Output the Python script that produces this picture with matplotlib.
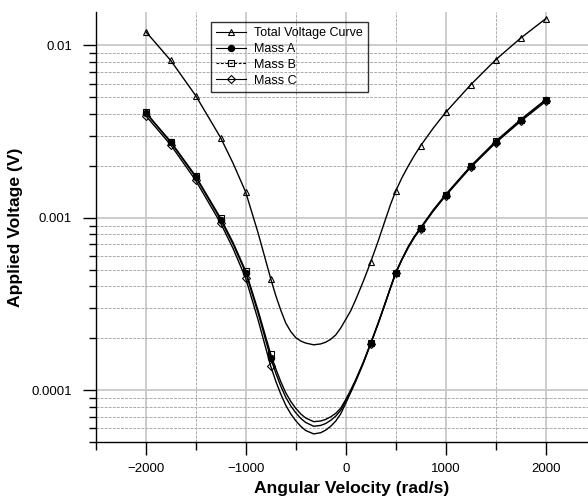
import numpy as np
import matplotlib
matplotlib.use("Agg")
import matplotlib.pyplot as plt
from matplotlib.ticker import MultipleLocator, LogLocator, FuncFormatter, NullFormatter
from matplotlib.lines import Line2D

plt.rcParams["font.family"] = ["Liberation Sans", "DejaVu Sans"]
plt.rcParams["axes.unicode_minus"] = True

# Angular velocity sample points (rad/s)
omega = [-2000, -1750, -1500, -1250, -1125, -1000, -875, -750, -700, -650,
         -600, -550, -500, -450, -400, -320, -250, -200, -150, -100,
         -50, 0, 50, 100, 175, 250, 325, 400, 450, 500,
         562, 625, 687, 750, 875, 1000, 1250, 1500, 1750, 2000]

# Applied voltage (V)
total_voltage = [1.205e-2, 8.185e-3, 5.117e-3, 2.911e-3, 2.065e-3, 1.409e-3, 8.13e-4, 4.436e-4, 3.548e-4, 2.917e-4,
                 2.455e-4, 2.188e-4, 2.018e-4, 1.928e-4, 1.875e-4, 1.832e-4, 1.854e-4, 1.897e-4, 1.972e-4, 2.089e-4,
                 2.291e-4, 2.57e-4, 2.884e-4, 3.35e-4, 4.266e-4, 5.534e-4, 7.33e-4, 9.886e-4, 1.202e-3, 1.429e-3,
                 1.706e-3, 1.995e-3, 2.301e-3, 2.624e-3, 3.311e-3, 4.093e-3, 5.916e-3, 8.26e-3, 1.104e-2, 1.429e-2]

mass_a = [4.064e-3, 2.742e-3, 1.722e-3, 9.73e-4, 7.0e-4, 4.81e-4, 2.786e-4, 1.535e-4, 1.259e-4, 1.057e-4,
          9.1e-5, 8.11e-5, 7.4e-5, 6.86e-5, 6.49e-5, 6.17e-5, 6.24e-5, 6.4e-5, 6.68e-5, 7.06e-5,
          7.64e-5, 8.65e-5, 9.89e-5, 1.14e-4, 1.442e-4, 1.866e-4, 2.45e-4, 3.258e-4, 3.963e-4, 4.80e-4,
          5.74e-4, 6.78e-4, 7.78e-4, 8.75e-4, 1.105e-3, 1.36e-3, 1.985e-3, 2.765e-3, 3.695e-3, 4.83e-3]

mass_b = [4.093e-3, 2.767e-3, 1.746e-3, 9.93e-4, 7.16e-4, 4.91e-4, 2.884e-4, 1.618e-4, 1.334e-4, 1.122e-4,
          9.66e-5, 8.61e-5, 7.85e-5, 7.28e-5, 6.89e-5, 6.56e-5, 6.62e-5, 6.76e-5, 7.0e-5, 7.33e-5,
          7.85e-5, 8.81e-5, 1.0e-4, 1.148e-4, 1.445e-4, 1.875e-4, 2.455e-4, 3.273e-4, 3.981e-4, 4.81e-4,
          5.754e-4, 6.79e-4, 7.80e-4, 8.77e-4, 1.109e-3, 1.365e-3, 1.995e-3, 2.78e-3, 3.715e-3, 4.853e-3]

mass_c = [3.917e-3, 2.649e-3, 1.648e-3, 9.29e-4, 6.61e-4, 4.46e-4, 2.541e-4, 1.377e-4, 1.13e-4, 9.51e-5,
          8.18e-5, 7.29e-5, 6.65e-5, 6.17e-5, 5.83e-5, 5.57e-5, 5.66e-5, 5.86e-5, 6.17e-5, 6.61e-5,
          7.28e-5, 8.38e-5, 9.68e-5, 1.122e-4, 1.422e-4, 1.854e-4, 2.427e-4, 3.236e-4, 3.936e-4, 4.753e-4,
          5.689e-4, 6.70e-4, 7.69e-4, 8.65e-4, 1.091e-3, 1.343e-3, 1.959e-3, 2.723e-3, 3.631e-3, 4.732e-3]

# Velocities at which the measurement symbols are shown
marker_omega = [-2000, -1750, -1500, -1250, -1000, -750,
                250, 500, 750, 1000, 1250, 1500, 1750, 2000]

series_labels = ["Total Voltage Curve", "Mass A", "Mass B", "Mass C"]

W, H = 588, 498
fig = plt.figure(figsize=(W / 100, H / 100), dpi=100)
ax = fig.add_axes([95.7 / W, 56 / H, 500 / W, 430.3 / H])

mark_idx = [i for i, w in enumerate(omega) if w in marker_omega]

styles = [
    dict(marker="^", ms=4.0, mfc="none", mew=0.8),
    dict(marker="o", ms=4.5, mfc="black", mew=0.8),
    dict(marker="s", ms=5.0, mfc="none", mew=0.8),
    dict(marker="D", ms=4.5, mfc="none", mew=0.8),
]
data = [total_voltage, mass_a, mass_b, mass_c]
for vals, st in zip(data, styles):
    ax.plot(omega, vals, color="black", lw=1.0, markevery=mark_idx,
            mec="black", zorder=3, **st)

ax.set_yscale("log")
ax.set_xlim(-2500, 2500)
ax.set_ylim(5e-5, 0.0157)

ax.xaxis.set_major_locator(MultipleLocator(1000))
ax.xaxis.set_minor_locator(MultipleLocator(500))
ax.yaxis.set_major_locator(LogLocator(base=10, numticks=10))
ax.yaxis.set_minor_locator(LogLocator(base=10, subs=np.arange(2, 10), numticks=20))
ax.yaxis.set_major_formatter(FuncFormatter(lambda v, p: f"{v:g}"))
ax.yaxis.set_minor_formatter(NullFormatter())

ax.set_axisbelow(True)
ax.grid(which="major", color="#c8c8c8", lw=1.3, ls="-")
ax.grid(which="minor", color="#acacac", lw=0.7, ls=(0, (3, 1.2)))

for s in ("top", "right"):
    ax.spines[s].set_visible(False)
for s in ("left", "bottom"):
    ax.spines[s].set_linewidth(1.0)

ax.tick_params(which="major", length=9.4, width=1.0, labelsize=9.5, color="black")
ax.tick_params(which="minor", length=5.4, width=1.0, color="black")
ax.tick_params(axis="x", which="major", pad=5.5)
ax.tick_params(axis="y", which="major", pad=7.5)

ax.set_xlabel("Angular Velocity (rad/s)", fontsize=12.6, fontweight="bold", labelpad=4)
ax.xaxis.set_label_coords(0.512, -0.09)
ax.set_ylabel("Applied Voltage (V)", fontsize=12.6, fontweight="bold", labelpad=6)

# Legend handles (the Mass B entry uses a dashed key line)
handles = []
for st, lab, ls in zip(styles, series_labels, ["-", "-", (0, (2.5, 1.5)), "-"]):
    handles.append(Line2D([], [], color="black", lw=0.8, ls=ls, mec="black", label=lab, **st))
leg = fig.legend(handles=handles, loc="upper left",
                 bbox_to_anchor=(210.7 / W, 1 - 21.7 / H), bbox_transform=fig.transFigure,
                 borderaxespad=0, fontsize=9, frameon=True, fancybox=False,
                 handlelength=2.4, handletextpad=0.6, labelspacing=0.3, borderpad=0.45)
leg.get_frame().set_edgecolor("black")
leg.get_frame().set_linewidth(1.0)
leg.get_frame().set_facecolor("none")

fig.savefig("out.png", dpi=100)
